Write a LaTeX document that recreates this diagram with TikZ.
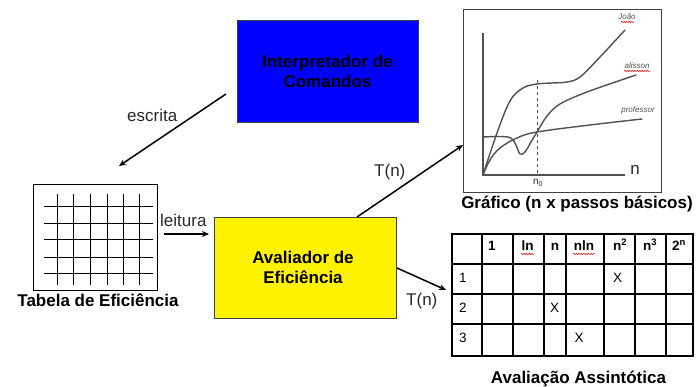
\documentclass[tikz,border=0pt]{standalone}
\usepackage{fontspec}
\setmainfont{Liberation Sans}
\usetikzlibrary{arrows.meta,decorations.pathmorphing}
\definecolor{boxgray}{RGB}{64,64,64}
\definecolor{curvegray}{RGB}{80,80,80}
\definecolor{txtgray}{RGB}{40,40,40}
\definecolor{spellred}{RGB}{220,30,30}
\begin{document}
\begin{tikzpicture}[x=1pt,y=-1pt,
  big/.style={font=\fontsize{17}{20}\selectfont, inner sep=0pt, anchor=base, text=txtgray},
  bigb/.style={font=\fontsize{17}{20}\selectfont\bfseries, inner sep=0pt, anchor=base},
  arr/.style={line width=1.5pt, draw=black, -{Stealth[length=7pt,width=6pt]}},
  hcell/.style={font=\fontsize{13.5}{15}\selectfont\bfseries, inner sep=0pt, anchor=base},
  cell/.style={font=\fontsize{13.5}{15}\selectfont, inner sep=0pt, anchor=base},
  tiny/.style={font=\fontsize{8}{9}\selectfont\itshape, inner sep=0pt, anchor=base, text=curvegray},
  spell/.style={draw=spellred, line width=0.6pt, decorate, decoration={snake, amplitude=0.6pt, segment length=2.5pt}},
  curve/.style={draw=curvegray, line width=1.4pt, line cap=round},
  grid line/.style={draw=black, line width=0.9pt},
]
\useasboundingbox (0,0) rectangle (697,387);

% ---------- Interpretador de Comandos ----------
\node[draw=boxgray, line width=1pt, fill=blue, minimum width=181pt, minimum height=102pt,
      inner sep=0pt, anchor=north west] (interp) at (237,20) {};
\node[bigb] (interpA) at (327.5,68) {Interpretador de};
\node[bigb] (interpB) at (327.5,88) {Comandos};

% ---------- Avaliador de Eficiencia ----------
\node[draw=boxgray, line width=1pt, fill=yellow, minimum width=182pt, minimum height=101pt,
      inner sep=0pt, anchor=north west] (aval) at (214,217) {};
\node[bigb] (avalA) at (303,264) {Avaliador de};
\node[bigb] (avalB) at (303,284) {Eficiência};

% ---------- Tabela de Eficiencia ----------
\node[draw=black, line width=0.8pt, minimum width=124pt, minimum height=106pt,
      inner sep=0pt, anchor=north west] (tab) at (33,184) {};
\foreach \x in {57,73,90,107,123,139} \draw[grid line] (\x,194) -- (\x,285);
\foreach \y in {206,223,239,257,273} \draw[grid line] (44,\y) -- (153,\y);
\node[bigb] (tabL) at (98,307) {Tabela de Eficiência};

% ---------- Grafico ----------
\node[draw=boxgray, line width=0.9pt, minimum width=198pt, minimum height=183pt,
      inner sep=0pt, anchor=north west] (graf) at (463,9) {};
\coordinate (orig) at (483,175);
\draw[curve, line cap=butt] (483,33) -- (orig) -- (625,175);
\draw[curvegray, line width=1pt, dashed] (537,80) -- (537,175);
% Joao
\draw[curve] plot[smooth, tension=0.6] coordinates {(483,175) (497,133) (510,101) (523,88) (537,84) (552,83) (567,82) (580,77) (600,57) (625,30)};
% alisson
\draw[curve] plot[smooth, tension=0.55] coordinates {(483,137) (500,136.5) (511,138) (516,145) (520,154) (525,152) (531,142) (537,132) (547,116) (560,104) (587,92) (636,75)};
% professor
\draw[curve] plot[smooth, tension=0.6] coordinates {(483,175) (490,160) (500,148) (517,138) (537,132) (590,125) (642,119)};
\node[tiny] (lJoao) at (627,20) {João};
\draw[spell] (621,22) -- (634,22);
\node[tiny] (lAli) at (637,69) {alisson};
\draw[spell] (624,71) -- (650,71);
\node[tiny] (lProf) at (638,113) {professor};
\node[font=\fontsize{17}{20}\selectfont, inner sep=0pt, anchor=base, text=txtgray] (lN) at (635,175) {n};
\node[font=\fontsize{10}{11}\selectfont, inner sep=0pt, anchor=base, text=txtgray] (lN0) at (538,185) {n\textsubscript{0}};
\node[bigb] (grafL) at (577,209) {Gráfico (n x passos básicos)};

% ---------- Avaliacao Assintotica ----------
\foreach \x in {482,513,544,566,604,635,666} \draw[black, line width=1.2pt] (\x,233) -- (\x,355);
\foreach \y in {264,294,324} \draw[black, line width=1.2pt] (451,\y) -- (692,\y);
\node[draw=black, line width=2pt, minimum width=241pt, minimum height=122pt,
      inner sep=0pt, anchor=north west] (assin) at (451,233) {};
\node[hcell] (h1) at (492,251) {1};
\node[hcell] (h2) at (527.5,251) {ln};
\draw[spell] (521,254) -- (534,254);
\node[hcell] (h3) at (555,251) {n};
\node[hcell] (h4) at (584,251) {nln};
\draw[spell] (573,254) -- (595,254);
\node[hcell] (h5) at (620,251) {n\textsuperscript{2}};
\node[hcell] (h6) at (650,251) {n\textsuperscript{3}};
\node[hcell] (h7) at (679,251) {2\textsuperscript{n}};
\node[cell] (r1) at (463,283) {1};
\node[cell] (r2) at (463,313) {2};
\node[cell] (r3) at (463,343) {3};
\node[cell] (x1) at (617.5,283) {X};
\node[cell] (x2) at (554.5,313) {X};
\node[cell] (x3) at (579,343) {X};
\node[bigb] (assinL) at (578.5,384) {Avaliação Assintótica};

% ---------- connectors ----------
\coordinate (escS) at (226,94);
\coordinate (escE) at (119,166);
\draw[arr] (escS) -- (escE);
\node[big, anchor=base west] (lEsc) at (127,122) {escrita};

\coordinate (leiS) at (164,234);
\coordinate (leiE) at (209,234);
\draw[arr] (leiS) -- (leiE);
\node[big, anchor=base west] (lLei) at (160,227) {leitura};

\coordinate (tnS) at (357,217);
\coordinate (tnE) at (463,145);
\draw[arr] (tnS) -- (tnE);
\node[big, anchor=base west] (lTn1) at (374,177) {T(n)};

\coordinate (tn2S) at (397,268);
\coordinate (tn2E) at (446,290);
\draw[arr] (tn2S) -- (tn2E);
\node[big, anchor=base west] (lTn2) at (406,306) {T(n)};
\end{tikzpicture}
\end{document}
